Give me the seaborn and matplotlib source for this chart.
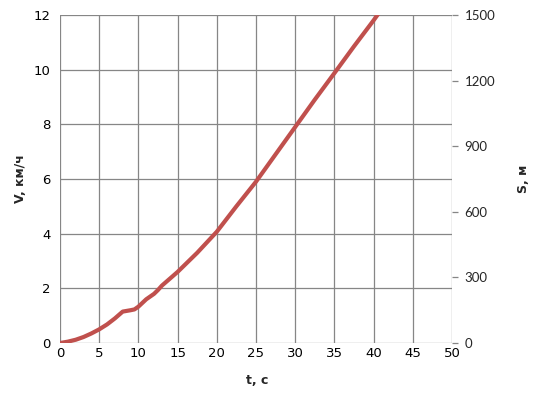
import matplotlib
matplotlib.use("Agg")
import matplotlib.pyplot as plt
import seaborn as sns
import pandas as pd

t_values = [0, 1, 2, 3, 4, 5, 6, 7, 8, 9, 9.5, 10, 11, 12, 12.5, 13, 14, 15,
            17.5, 20, 22.5, 25, 27.5, 30, 32.5, 35, 37.5, 40, 41]
v_values = [0, 0.05, 0.12, 0.22, 0.35, 0.5, 0.68, 0.9, 1.15, 1.2, 1.23, 1.33,
            1.6, 1.8, 1.94, 2.1, 2.35, 2.6, 3.3, 4.07, 5.0, 5.9, 6.9, 7.9,
            8.9, 9.87, 10.85, 11.8, 12.2]
x_ticks = [0, 5, 10, 15, 20, 25, 30, 35, 40, 45, 50]
v_ticks = [0, 2, 4, 6, 8, 10, 12]
s_ticks = [0, 300, 600, 900, 1200, 1500]

sns.set_style("white")
plt.rcParams['font.family'] = ['DejaVu Sans']

df = pd.DataFrame({"t": t_values, "V": v_values})

fig = plt.figure(figsize=(5.38, 4.05), dpi=100)
ax = fig.add_axes([0.1115, 0.153, 0.7285, 0.81])
grid_c = "#868686"

sns.lineplot(data=df, x="t", y="V", ax=ax, color="#c0504d", linewidth=3.0)

ax.set_xlim(0, 50)
ax.set_ylim(0, 12)
ax.set_xticks(x_ticks)
ax.set_yticks(v_ticks)
ax.grid(True, color=grid_c, linewidth=0.9)
ax.set_axisbelow(True)
for s in ax.spines.values():
    s.set_visible(False)
ax.tick_params(axis="both", length=0, labelsize=9.5, colors="black")
ax.tick_params(axis="x", pad=3)
ax.tick_params(axis="y", pad=7)
ax.set_xlabel("t, с", fontsize=9, fontweight="bold")
ax.xaxis.set_label_coords(0.503, -0.095)
ax.set_ylabel("V, км/ч", fontsize=9, fontweight="bold")
ax.yaxis.set_label_coords(-0.085, 0.5)

ax2 = ax.twinx()
ax2.set_ylim(0, 1500)
ax2.set_yticks(s_ticks)
for s in ax2.spines.values():
    s.set_visible(False)
ax2.tick_params(axis="y", length=4, width=0.9, color=grid_c, labelsize=9.5,
                pad=5)
for lab in ax2.get_yticklabels():
    lab.set_family("Lato")
ax2.set_ylabel("S, м", fontsize=9, fontweight="bold")
ax2.yaxis.set_label_coords(1.166, 0.5)

fig.savefig("out.png", dpi=100)
